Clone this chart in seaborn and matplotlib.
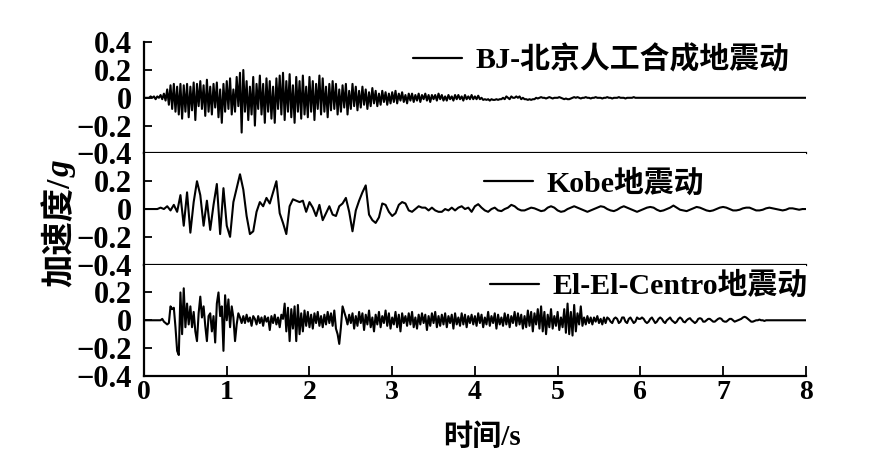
import numpy as np
import pandas as pd
import seaborn as sns
import matplotlib.pyplot as plt

# sampled records (g)
DT_BJ = 0.02
BJ = [
    0, 0, 0, 0, .01, 0, .01, -.01, .01, 0, .02, -.01, .03, -.02, .06, -.05, .09, -.08, .1, -.1, .08, -.12, .1, -.15, .09,
    -.1, .1, -.14, .08, -.09, .11, -.16, .1, -.06, .12, -.08, .09, -.13, .13, -.1, .08, -.12, .1, -.07, .11, -.14, .06, -.18, .1, -.1,
    .12, -.08, .14, -.12, .06, -.1, .15, -.06, .18, -.25, .2, -.1, .12, -.16, .08, -.12, .15, -.2, .1, -.08, .16, -.12, .1, -.18, .14,
    -.1, .12, -.15, .08, -.18, .14, -.08, .16, -.12, .18, -.16, .12, -.1, .17, -.14, .09, -.18, .15, -.1, .12, -.15, .16, -.12, .08, -.14,
    .15, -.1, .12, -.16, .1, -.08, .16, -.12, .14, -.1, .08, -.14, .1, -.09, .12, -.08, .1, -.12, .06, -.1, .09, -.07, .1, -.12, .05,
    -.08, .1, -.06, .08, -.09, .05, -.07, .08, -.05, .06, -.08, .04, -.06, .07, -.04, .05, -.06, .03, -.05, .05, -.03, .04, -.05, .03, -.04,
    .04, -.03, .05, -.04, .03, -.02, .04, -.03, .02, -.04, .03, -.02, .03, -.03, .02, -.02, .03, -.03, .02, -.01, .03, -.02, .02, -.03, .02,
    -.01, .02, -.02, .03, -.01, .02, -.02, .01, -.02, .02, -.01, .01, -.02, .02, -.01, .02, -.01, .01, -.02, .02, -.01, .01, -.01, .02, -.01,
    .01, -.01, .015, -.01, 0, -.015, -.01, -.015, -.01, -.02, -.01, -.015, -.015, -.01, -.015, -.01, -.01, 0, -.01, .01, 0, -.01, .01, 0, 0,
    .01, 0, .01, -.01, 0, -.01, -.01, -.015, -.01, -.015, -.01, -.01, 0, -.005, 0, .005, 0, 0, -.005, 0, .005, 0, -.005, 0, 0,
    0, .005, 0, -.005, -.01, -.005, -.01, -.01, -.005, 0, .005, 0, .005, 0, -.005, 0, 0, .005, 0, 0, -.005, 0, 0, .005, 0,
    0, 0, -.005, 0, 0, .005, 0, 0, -.005, 0, 0, 0, .005, 0, 0, 0, -.005, 0, 0, 0, 0, .005, 0, 0, 0,
    0, 0, 0, 0, 0, 0, 0, 0, 0, 0, 0, 0, 0, 0, 0, 0, 0, 0, 0, 0, 0, 0, 0, 0, 0,
    0, 0, 0, 0, 0, 0, 0, 0, 0, 0, 0, 0, 0, 0, 0, 0, 0, 0, 0, 0, 0, 0, 0, 0, 0,
    0, 0, 0, 0, 0, 0, 0, 0, 0, 0, 0, 0, 0, 0, 0, 0, 0, 0, 0, 0, 0, 0, 0, 0, 0,
    0, 0, 0, 0, 0, 0, 0, 0, 0, 0, 0, 0, 0, 0, 0, 0, 0, 0, 0, 0, 0, 0, 0, 0, 0,
    0,
]

DT_KOBE = 0.04
KOBE = [
    0, 0, 0, 0, 0, .01, 0, .02, -.01, .03,
    -.02, .1, -.12, .12, -.17, .05, .2, .1, -.12, .06,
    -.15, .03, .18, -.18, .15, -.12, -.2, .05, .15, .25,
    .14, -.05, -.18, -.16, -.02, .05, .02, .08, .04, .12,
    .2, -.03, -.1, -.18, .02, .07, .06, .05, .06, -.02,
    .05, .01, -.05, .03, -.08, -.03, .02, -.04, -.05, .02,
    .04, .08, -.02, -.16, -.01, .06, .12, .17, -.04, -.08,
    -.1, -.06, .04, .03, -.02, -.05, -.03, .03, .05, .04,
    -.01, -.02, 0, .02, .01, .01, -.01, .01, -.01, -.02,
    -.02, 0, -.01, .01, -.01, .01, .02, 0, .01, -.02,
    .02, .035, .01, -.01, -.02, 0, .01, -.01, -.015, 0,
    .01, .03, .02, 0, -.01, -.01, 0, .01, .005, -.005,
    -.015, -.01, .01, .02, .01, -.01,
    -.02, -.015, 0, .01, .02, .01, 0, -.01, -.02, -.01,
    0, .01, .02, .015, 0, -.01, -.015, -.005, .01, .02,
    .01, 0, -.01, -.02, -.01, 0, .01, .015, .01, -.005,
    -.015, -.01, 0, .01, .025, .01, -.005, -.01, -.015, -.005,
    .005, .015, .01, 0, -.01, -.015, -.01, 0, .01, .015,
    .01, 0, -.01, -.01, -.005, .005, .01, .01, 0, -.01,
    -.01, -.005, .005, .01, .005, 0, -.005, -.01, -.005, .005,
    .005, 0, -.005, 0, 0,
]

DT_EL = 0.02
EL_CENTRO = [
    0, 0, 0, 0, 0, 0, 0, 0, 0, 0, 0, .01, -.01, -.02, -.03, -.02, .1, .08, .09, -.05,
    -.22, -.25, .2, -.1, .23, -.05, .12, -.03, .1, -.05, .06, -.08, -.15, .05, .17, .02, .1, -.04, -.15, .03,
    .05, -.08, .03, -.16, .12, .2, .03, .1, -.22, .18, 0, .15, -.05, .1, .02, -.15, -.03, .05, .02, -.02,
    .03, -.02, .04, -.01, .02, -.04, .03, .01, -.03, .03, -.02, .02, -.04, .03, -.01, .02, -.07, .03, -.02, .04,
    -.03, .02, -.05, .04, .01, .12, -.08, .09, -.15, .08, -.06, .1, -.15, .11, -.1, .05, -.08, .07, -.04, .06,
    -.05, .04, -.06, .05, -.02, .06, -.04, .03, -.05, .04, -.03, .06, -.02, .05, -.04, .07, -.06, -.1, -.17, -.05,
    .1, .06, .02, -.03, .04, -.02, .05, -.06, .03, -.04, .06, -.02, .05, -.07, .04, -.03, .07, -.05, .02, -.08,
    .04, -.03, .06, -.05, .03, -.02, .07, -.04, .05, -.06, .02, -.03, .06, -.05, .04, -.08, .05, -.02, .03, -.04,
    .05, -.03, .06, -.05, .02, -.06, .04, -.03, .05, -.02, .04, -.07, .03, -.04, .05, -.02, .06, -.05, .03, -.04,
    .04, -.03, .05, -.05, .03, -.02, .04, -.06, .05, -.03, .02, -.04, .05, -.03, .04, -.05, .03, -.02, .04, -.03,
    .03, -.04, .05, -.02, .04, -.05, .02, -.03, .06, -.04, .03, -.02, .05, -.06, .04, -.03, .02, -.04, .05, -.03,
    .04, -.05, .03, -.02, .06, -.04, .05, -.03, .04, -.06, .03, -.05, .07, -.04, .06, -.08, .05, -.03, .08, -.06,
    .1, -.08, .06, -.1, .04, -.05, .08, -.06, .03, -.04, .06, -.07, .02, -.05, .08, -.09, .12, -.1, .06, -.11,
    .11, -.08, .05, -.03, .1, -.04, .02, -.03, .03, -.02, .02, -.03, .02, -.01, .03, -.02, .01, -.03, .02, -.02,
    .02, .01, -.01, -.02, .01, .02, .01, -.02, -.01, .02, .02, -.01, -.02, .01, .02, 0, -.02, -.01, .02, .01,
    .01, .02, .01, -.01, -.02, -.01, .01, .02, 0, -.02, -.01, .01, .02, .01, -.01, -.02, 0, .01, .02, 0,
    -.01, -.02, -.01, .01, .02, .01, -.01, -.015, 0, .01, .015, 0, -.01, -.02, -.01, .01, .015, .01, -.01, -.01,
    0, .01, .01, 0, -.01, -.01, 0, .01, .015, .01, -.005, -.01, -.01, 0, .01, .01, 0, -.01, -.005, 0,
    .005, .01, .02, .025, .02, .01, 0, -.01, -.01, -.005, 0, 0, .005, 0, 0, -.005, 0, 0, 0, 0,
    0, 0, 0, 0, 0, 0, 0, 0, 0, 0, 0, 0, 0, 0, 0, 0, 0, 0, 0, 0,
    0,
]

LABELS = ["BJ-北京人工合成地震动", "Kobe地震动", "El-El-Centro地震动"]
X_TICKS = [0, 1, 2, 3, 4, 5, 6, 7, 8]

LATIN_CJK = ["Liberation Serif", "Noto Sans CJK SC"]


def to_frame(values, dt):
    return pd.DataFrame({"t": np.arange(len(values)) * dt, "a": values})


def fmt(v):
    if v == 0:
        return "0"
    return f"{v:.1f}".replace("-", "\u2212")


def main():
    sns.set_style("ticks")
    plt.rcParams["font.family"] = LATIN_CJK
    for k in ["text.color", "axes.labelcolor", "xtick.color", "ytick.color", "axes.edgecolor"]:
        plt.rcParams[k] = "black"

    fig, axes = plt.subplots(3, 1, figsize=(8.73, 4.74), dpi=100, sharex=True,
                             gridspec_kw={"hspace": 0})
    fig.subplots_adjust(left=0.165, right=0.923, bottom=0.207, top=0.911)

    series = [(BJ, DT_BJ), (KOBE, DT_KOBE), (EL_CENTRO, DT_EL)]
    legend_pos = [(0.976, 0.84), (0.847, 0.73), (1.003, 0.81)]

    for i, (ax, (vals, dt), lab, pos) in enumerate(zip(axes, series, LABELS, legend_pos)):
        df = to_frame(vals, dt)
        sns.lineplot(data=df, x="t", y="a", ax=ax, color="black", linewidth=1.5,
                     label=lab, estimator=None)
        ax.set_xlim(0, 8)
        ax.set_ylim(-0.4, 0.4)
        yt = [0.4, 0.2, 0, -0.2, -0.4] if i == 0 else [0.2, 0, -0.2, -0.4]
        ax.set_yticks(yt)
        ax.set_yticklabels([fmt(v) for v in yt])
        ax.set_xlabel("")
        ax.set_ylabel("")
        for s in ["top", "right"]:
            ax.spines[s].set_visible(False)
        for s in ["left", "bottom"]:
            ax.spines[s].set_linewidth(1.6)
        ax.tick_params(axis="y", direction="in", length=6, width=1.3, labelsize=22, pad=9)
        ax.tick_params(axis="x", direction="in", length=7, width=1.3, labelsize=20, pad=3)
        for t in ax.get_yticklabels():
            t.set_fontweight("bold")
        if i < 2:
            ax.tick_params(axis="x", bottom=False, labelbottom=False)
        leg = ax.legend(loc="center right", bbox_to_anchor=pos, frameon=False,
                        handlelength=1.65, handletextpad=0.45, borderpad=0, borderaxespad=0,
                        prop={"size": 21.5, "weight": "bold", "family": LATIN_CJK})
        for ln in leg.get_lines():
            ln.set_linewidth(1.6)

    axes[2].set_xticks(X_TICKS)
    axes[2].set_xticklabels([str(v) for v in X_TICKS])
    for t in axes[2].get_xticklabels():
        t.set_fontweight("bold")

    # y label: CJK part plus italic g, baselines aligned
    renderer = fig.canvas.get_renderer()
    x0, y0 = 0.08, 0.395
    t1 = fig.text(x0, y0, "加速度/", rotation=90, rotation_mode="anchor",
                  ha="left", va="baseline", fontsize=24, fontweight="bold", family=LATIN_CJK)
    bb = t1.get_window_extent(renderer)
    fig.text(x0, y0 + bb.height / fig.bbox.height, "g", rotation=90, rotation_mode="anchor",
             ha="left", va="baseline", fontsize=24, fontweight="bold", style="italic",
             family=LATIN_CJK)

    fig.text(0.552, 0.078, "时间/s", ha="center", va="center",
             fontsize=21, fontweight="bold", family=LATIN_CJK)

    fig.savefig("out.png", dpi=100)
    plt.close(fig)


if __name__ == "__main__":
    main()
